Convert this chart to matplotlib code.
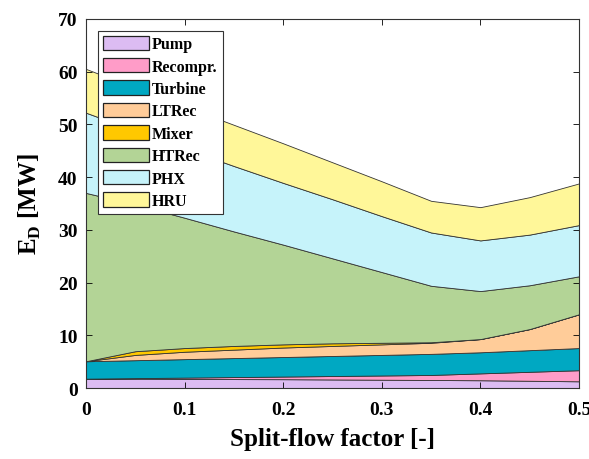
import numpy as np
import matplotlib.pyplot as plt

# Split-flow factor
split = [0.0, 0.05, 0.10, 0.15, 0.20, 0.25, 0.30, 0.35, 0.40, 0.45, 0.50]

# Exergy destruction per component [MW]
pump = [1.8, 1.78, 1.75, 1.72, 1.7, 1.65, 1.6, 1.55, 1.5, 1.4, 1.3]
recompr = [0.0, 0.12, 0.25, 0.38, 0.5, 0.65, 0.8, 0.95, 1.3, 1.7, 2.1]
turbine = [3.3, 3.4, 3.5, 3.6, 3.7, 3.8, 3.9, 4.0, 4.0, 4.1, 4.2]
ltrec = [0.0, 1.0, 1.4, 1.6, 1.8, 1.9, 2.0, 2.1, 2.5, 4.0, 6.4]
mixer = [0.0, 0.7, 0.7, 0.7, 0.6, 0.5, 0.3, 0.1, 0.0, 0.0, 0.0]
htrec = [31.9, 27.8, 24.7, 21.7, 18.9, 16.1, 13.4, 10.7, 9.1, 8.3, 7.2]
phx = [15.2, 14.0, 13.1, 12.4, 11.7, 11.2, 10.6, 10.1, 9.6, 9.6, 9.7]
hru = [8.3, 8.1, 8.0, 7.8, 7.5, 7.0, 6.6, 6.0, 6.3, 7.1, 7.9]

labels = ["Pump", "Recompr.", "Turbine", "LTRec", "Mixer", "HTRec", "PHX", "HRU"]
colors = ["#dcbcf2", "#ff9cc8", "#00a8c2", "#ffcc99", "#ffc800",
          "#b3d496", "#c6f3fa", "#fff799"]

plt.rcParams["font.family"] = ["Liberation Serif", "DejaVu Serif"]

fig = plt.figure(figsize=(5.89, 4.60), dpi=100)
ax = fig.add_axes([0.146, 0.154, 0.837, 0.803])

series = [pump, recompr, turbine, ltrec, mixer, htrec, phx, hru]
polys = ax.stackplot(split, *series, labels=labels, colors=colors,
                     edgecolor="#333333", linewidth=0.6)

ax.set_xlim(0, 0.5)
ax.set_ylim(0, 70)
ax.set_xticks(np.arange(0, 0.51, 0.1))
ax.set_xticklabels(["0", "0.1", "0.2", "0.3", "0.4", "0.5"])
ax.set_yticks(range(0, 71, 10))

ax.tick_params(direction="in", top=True, right=True, length=4,
               width=0.6, labelsize=14)
ax.tick_params(axis="x", pad=9)
ax.tick_params(axis="y", pad=6)
for lbl in ax.get_xticklabels() + ax.get_yticklabels():
    lbl.set_fontweight("bold")
for sp in ax.spines.values():
    sp.set_linewidth(0.8)
    sp.set_color("#333333")

ax.set_xlabel("Split-flow factor [-]", fontsize=18, fontweight="bold",
              labelpad=7)
ax.set_ylabel(r"E$_\mathregular{D}$ [MW]", fontsize=18, fontweight="bold",
              labelpad=11)

leg = ax.legend(loc="upper left", bbox_to_anchor=(0.024, 0.967),
                prop={"weight": "bold", "size": 11.5}, fancybox=False,
                framealpha=1, edgecolor="#333333", handlelength=2.9,
                handleheight=1.0, handletextpad=0.2, labelspacing=0.36,
                borderpad=0.3, borderaxespad=0)
leg.get_frame().set_linewidth(0.8)
for h in leg.legend_handles:
    h.set_edgecolor("#222222")
    h.set_linewidth(0.9)

fig.savefig("out.png", dpi=100)
